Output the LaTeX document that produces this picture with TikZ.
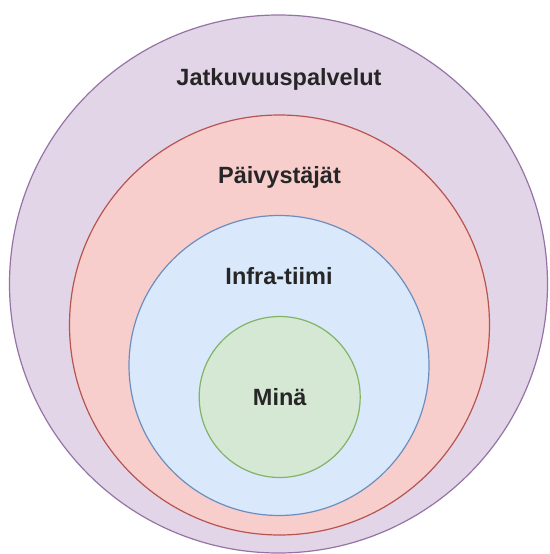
\documentclass[tikz,border=0pt]{standalone}
\usepackage{fontspec}
\setmainfont{Liberation Sans}
\usepackage{tikz}
\definecolor{jatkofill}{HTML}{E1D5E7}
\definecolor{jatkoline}{HTML}{9673A6}
\definecolor{paivfill}{HTML}{F8CECC}
\definecolor{paivline}{HTML}{B85450}
\definecolor{infrafill}{HTML}{DAE8FC}
\definecolor{infraline}{HTML}{6C8EBF}
\definecolor{minafill}{HTML}{D5E8D4}
\definecolor{minaline}{HTML}{82B366}
\tikzset{
 ring/.style={shape=circle,inner sep=0pt,line width=1.2pt},
 lbl/.style={font=\bfseries\fontsize{23.5}{28}\selectfont,anchor=base,text=black!85}
}

\begin{document}
\begin{tikzpicture}[x=1pt,y=-1pt]
\useasboundingbox (0,0) rectangle (549,554);
\path (278.5,284) node[name=jatko,ring,draw=jatkoline,fill=jatkofill,minimum size=538pt] {};
\path (279.5,325) node[name=paiv,ring,draw=paivline,fill=paivfill,minimum size=420pt] {};
\path (279,365.5) node[name=infra,ring,draw=infraline,fill=infrafill,minimum size=300pt] {};
\path (279.7,397) node[name=mina,ring,draw=minaline,fill=minafill,minimum size=161pt] {};

\path (279,85) node[name=jatkoT,lbl] {Jatkuvuuspalvelut};
\path (279.5,183) node[name=paivT,lbl] {Päivystäjät};
\path (279,284) node[name=infraT,lbl] {Infra-tiimi};
\path (279.7,405) node[name=minaT,lbl] {Minä};
\end{tikzpicture}
\end{document}
